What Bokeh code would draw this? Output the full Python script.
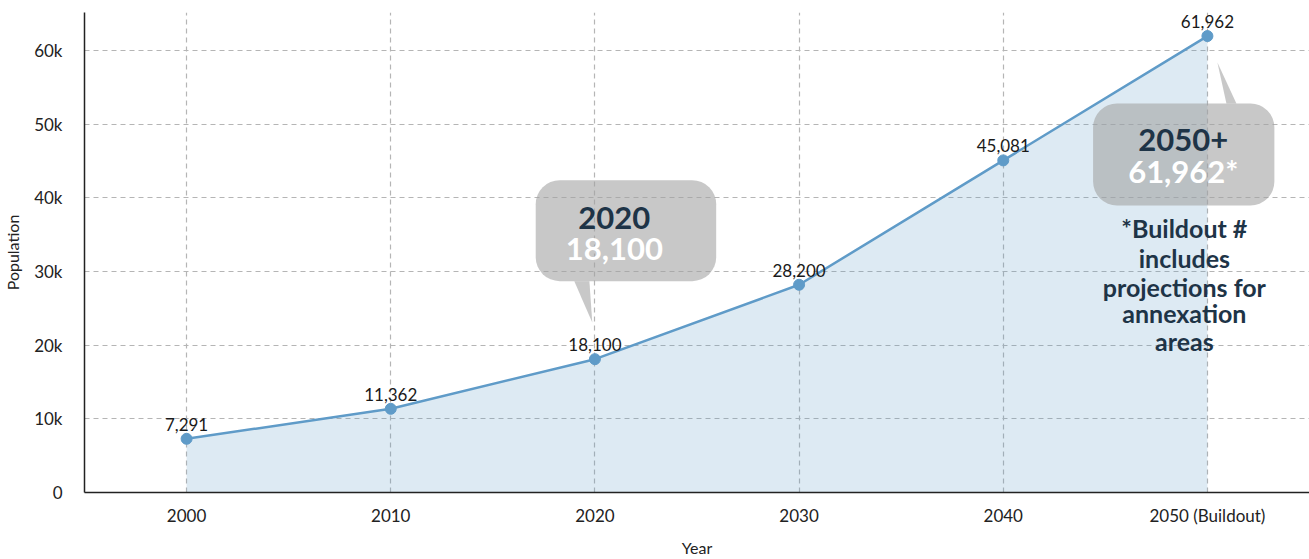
from bokeh.plotting import figure
from bokeh.models import (ColumnDataSource, FixedTicker, Range1d, LabelSet, Label,
                          BoxAnnotation, PolyAnnotation)
from bokeh.core.properties import value
from bokeh.embed import file_html
from bokeh.resources import INLINE

# ---- data ----
years = ["2000", "2010", "2020", "2030", "2040", "2050 (Buildout)"]
population = [7291, 11362, 18100, 28200, 45081, 61962]
point_labels = ["7,291", "11,362", "18,100", "28,200", "45,081", "61,962"]
y_ticks = [0, 10000, 20000, 30000, 40000, 50000, 60000]
y_tick_labels = ["0", "10k", "20k", "30k", "40k", "50k", "60k"]

idx = list(range(len(years)))
src = ColumnDataSource(dict(x=idx, y=population, lab=point_labels, base=[0] * len(idx)))

p = figure(width=1309, height=559, output_backend="svg", toolbar_location=None,
           x_range=Range1d(-0.5, len(years) - 0.5), y_range=Range1d(0, 65160),
           min_border_left=84, min_border_right=0, min_border_top=12, min_border_bottom=40)
p.outline_line_color = None
p.background_fill_color = "white"

LINE = "#5f9bc8"
p.varea(x="x", y1="base", y2="y", source=src, fill_color=LINE, fill_alpha=0.21)
p.line(x="x", y="y", source=src, line_color=LINE, line_width=2.5)
p.scatter(x="x", y="y", source=src, size=11, fill_color=LINE, line_color=LINE)

p.add_layout(LabelSet(x="x", y="y", text="lab", source=src, y_offset=8,
                      text_align="center", text_baseline="bottom",
                      text_font=value("Lato"), text_font_size="17px", text_color="#1a1a1a"))

# axes
p.xaxis.ticker = FixedTicker(ticks=idx)
p.xaxis.major_label_overrides = {i: y for i, y in zip(idx, years)}
p.yaxis.ticker = FixedTicker(ticks=y_ticks)
p.yaxis.major_label_overrides = {t: l for t, l in zip(y_ticks, y_tick_labels)}
for ax in (p.xaxis, p.yaxis):
    ax.major_tick_line_color = None
    ax.minor_tick_line_color = None
    ax.major_tick_out = 0
    ax.major_tick_in = 0
    ax.axis_line_color = "#222222"
    ax.axis_line_width = 1.5
    ax.major_label_text_font = "Lato"
    ax.major_label_text_font_size = "17px"
    ax.major_label_text_color = "#222222"
    ax.axis_label_text_font = "Lato"
    ax.axis_label_text_font_size = "16px"
    ax.axis_label_text_font_style = "normal"
    ax.axis_label_text_color = "#222222"
p.xaxis.axis_label = "Year"
p.yaxis.axis_label = "Population"
p.xaxis.major_label_standoff = 12
p.xaxis.axis_label_standoff = 9
p.yaxis.major_label_standoff = 22
p.yaxis.axis_label_standoff = 9

p.xgrid.ticker = FixedTicker(ticks=idx)
p.ygrid.ticker = FixedTicker(ticks=y_ticks[1:])
for g in (p.xgrid, p.ygrid):
    g.grid_line_color = "#b5b5b5"
    g.grid_line_dash = "5 4"
    g.grid_line_width = 1.2

# callouts
BOX = "#a4a4a4"
BOX_ALPHA = 0.6
NAVY = "#1e3447"

p.add_layout(BoxAnnotation(left=1.71, right=2.594, top=42400, bottom=28690,
                           fill_color=BOX, fill_alpha=BOX_ALPHA, line_color=None,
                           border_radius=24))
p.add_layout(PolyAnnotation(xs=[1.899, 1.973, 1.987], ys=[28690, 28690, 23078],
                            fill_color=BOX, fill_alpha=BOX_ALPHA, line_color=None))
p.add_layout(Label(x=2.095, y=37300, text="2020", text_align="center", text_baseline="middle",
                   text_font="Lato", text_font_style="bold", text_font_size="31px",
                   text_color=NAVY))
p.add_layout(Label(x=2.095, y=33100, text="18,100", text_align="center", text_baseline="middle",
                   text_font="Lato", text_font_style="bold", text_font_size="31px",
                   text_color="white"))

p.add_layout(BoxAnnotation(left=4.44, right=5.328, top=52810, bottom=38960,
                           fill_color=BOX, fill_alpha=BOX_ALPHA, line_color=None,
                           border_radius=24))
p.add_layout(PolyAnnotation(xs=[5.093, 5.142, 5.049], ys=[52810, 52810, 58370],
                            fill_color=BOX, fill_alpha=BOX_ALPHA, line_color=None))
p.add_layout(Label(x=4.882, y=47900, text="2050+", text_align="center", text_baseline="middle",
                   text_font="Lato", text_font_style="bold", text_font_size="31px",
                   text_color=NAVY))
p.add_layout(Label(x=4.882, y=43700, text="61,962*", text_align="center", text_baseline="middle",
                   text_font="Lato", text_font_style="bold", text_font_size="31px",
                   text_color="white"))

note_lines = ["*Buildout #", "includes", "projections for", "annexation", "areas"]
note_y = [35840, 31900, 27960, 24300, 20500]
for t, yy in zip(note_lines, note_y):
    p.add_layout(Label(x=4.887, y=yy, text=t, text_align="center", text_baseline="middle",
                       text_font="Lato", text_font_style="bold", text_font_size="25px",
                       text_color=NAVY))

open("out.html", "w").write(file_html(p, INLINE))
